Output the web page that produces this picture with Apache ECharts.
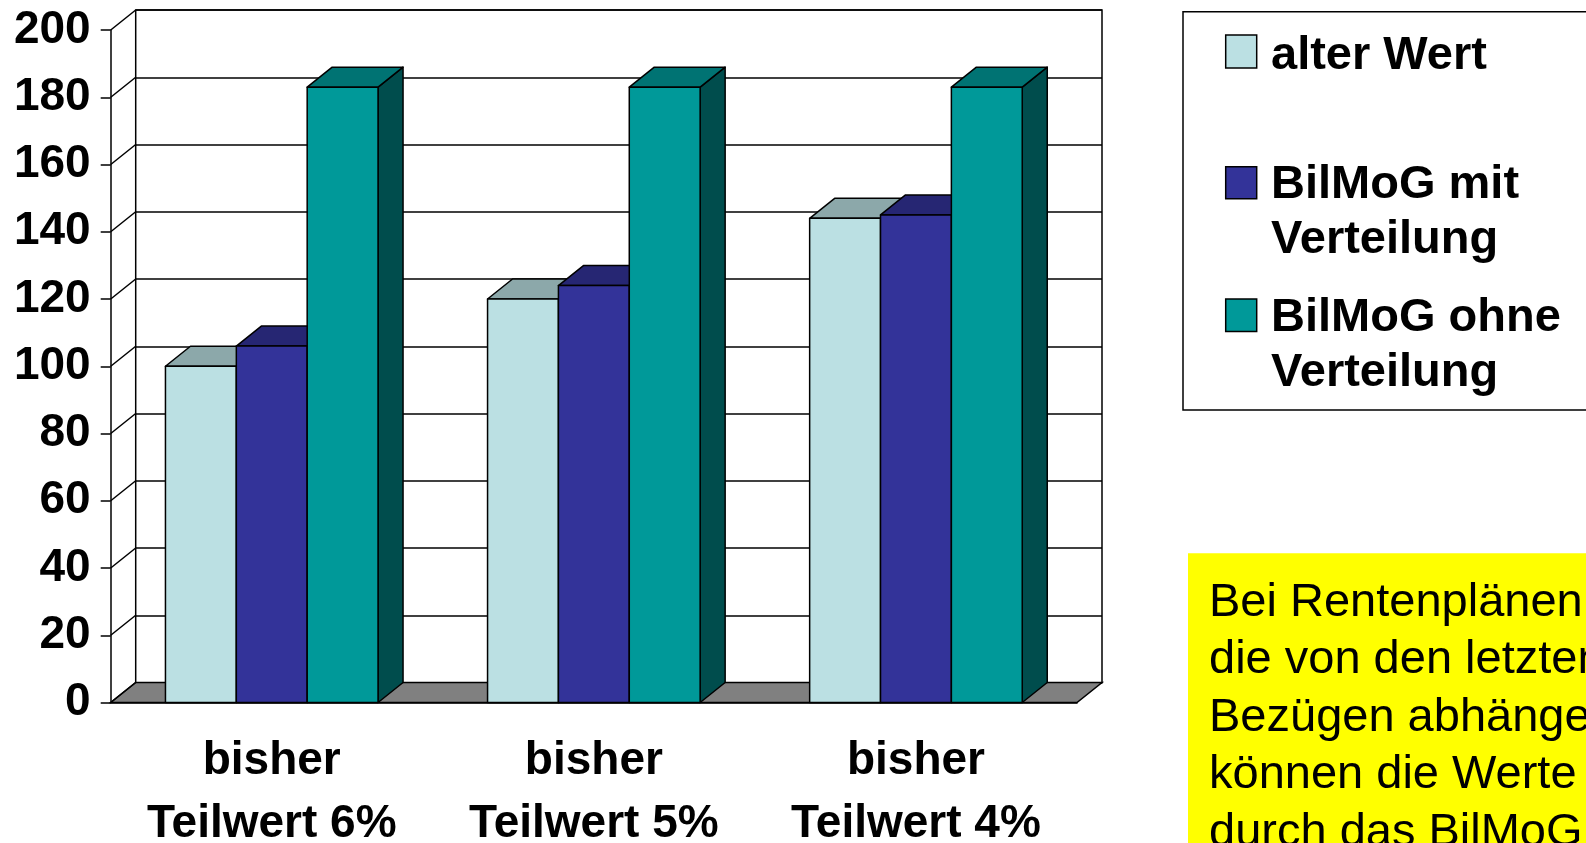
<!DOCTYPE html>
<html>
<head>
<meta charset="utf-8">
<script src="https://cdn.jsdelivr.net/npm/echarts@6/dist/echarts.min.js"></script>
<style>
  html, body { margin: 0; padding: 0; background: #fff; }
  #box { width: 1586px; height: 843px; }
</style>
</head>
<body>
<div id="box"></div>
<script>
// Daten
var categories = ['bisher\nTeilwert 6%', 'bisher\nTeilwert 5%', 'bisher\nTeilwert 4%'];
var seriesNames = ['alter Wert', 'BilMoG mit Verteilung', 'BilMoG ohne Verteilung'];
var alterWert = [100, 120, 144];
var mitVerteilung = [106, 124, 145];
var ohneVerteilung = [183, 183, 183];
var yTicks = [0, 20, 40, 60, 80, 100, 120, 140, 160, 180, 200];

// Farben: Front, Deckel, Seite
var colors = [
    ['#BBE0E3', '#8CA8AA', '#5E7072'],
    ['#333399', '#262673', '#1A1A4D'],
    ['#009999', '#007373', '#004D4D']
];
var DX = 25, DY = 20; // 3D Tiefe
var FONT = "'Liberation Sans', Arial, sans-serif";

var myChart = echarts.init(document.getElementById('box'));

function barItem(params, api) {
    var s = params.seriesIndex - 2; // 0..2
    var cat = api.value(0);
    var val = api.value(1);
    var band = api.size([1, 0])[0];
    var w = band * 0.22;
    var c = api.coord([cat, 0]);
    var top = api.coord([cat, val])[1];
    var base = c[1];
    var x0 = c[0] + (s - 1.5) * w;
    var col = colors[s];
    var ls = { stroke: '#000', lineWidth: 1.5, lineJoin: 'round' };
    return {
        type: 'group',
        children: [
            { type: 'polygon', shape: { points: [[x0 + w, top], [x0 + w + DX, top - DY], [x0 + w + DX, base - DY], [x0 + w, base]] },
              style: Object.assign({ fill: col[2] }, ls) },
            { type: 'polygon', shape: { points: [[x0, top], [x0 + w, top], [x0 + w + DX, top - DY], [x0 + DX, top - DY]] },
              style: Object.assign({ fill: col[1] }, ls) },
            { type: 'rect', shape: { x: x0, y: top, width: w, height: base - top },
              style: Object.assign({ fill: col[0] }, ls) }
        ]
    };
}

var option = {
    animation: false,
    grid: [
        // Vorderebene
        { left: 110.7, top: 30, right: 509, bottom: 140.5, containLabel: false, outerBoundsMode: 'none' },
        // Rückwand
        { left: 135.7, top: 10, right: 484, bottom: 160.3, containLabel: false, outerBoundsMode: 'none',
          show: true, borderColor: '#000', borderWidth: 1.5, backgroundColor: '#fff' }
    ],
    xAxis: [
        {
            gridIndex: 0,
            type: 'category',
            data: categories,
            axisLine: { lineStyle: { color: '#000', width: 1.5 } },
            axisTick: { length: 13, lineStyle: { color: '#000', width: 1.5 } },
            axisLabel: { color: '#000', fontFamily: FONT, fontWeight: 'bold', fontSize: 46, lineHeight: 63, margin: 27, interval: 0 }
        },
        { gridIndex: 1, type: 'category', data: categories, show: false }
    ],
    yAxis: [
        {
            gridIndex: 0,
            type: 'value',
            min: 0,
            max: 200,
            interval: 20,
            axisLine: { show: true, lineStyle: { color: '#000', width: 1.5 } },
            axisTick: { show: true, length: 10, lineStyle: { color: '#000', width: 1.5 } },
            splitLine: { show: false },
            axisLabel: { color: '#000', fontFamily: FONT, fontWeight: 'bold', fontSize: 46, margin: 20 }
        },
        {
            gridIndex: 1,
            type: 'value',
            min: 0,
            max: 200,
            interval: 20,
            axisLine: { show: false },
            axisTick: { show: false },
            axisLabel: { show: false },
            splitLine: { lineStyle: { color: '#000', width: 1.5 } }
        }
    ],
    series: [
        // Boden
        {
            type: 'custom',
            xAxisIndex: 0,
            yAxisIndex: 0,
            silent: true,
            data: [[0, 0]],
            renderItem: function (params, api) {
                var cs = params.coordSys;
                var y0 = api.coord([0, 0])[1];
                return {
                    type: 'polygon',
                    shape: { points: [[cs.x, y0], [cs.x + cs.width, y0], [cs.x + cs.width + DX, y0 - DY], [cs.x + DX, y0 - DY]] },
                    style: { fill: '#808080', stroke: '#000', lineWidth: 1.5 }
                };
            }
        },
        // Seitenwand
        {
            type: 'custom',
            xAxisIndex: 0,
            yAxisIndex: 0,
            silent: true,
            data: yTicks.map(function (v) { return [0, v]; }),
            renderItem: function (params, api) {
                var cs = params.coordSys;
                var y = api.coord([0, api.value(1)])[1];
                return {
                    type: 'line',
                    shape: { x1: cs.x, y1: y, x2: cs.x + DX, y2: y - DY },
                    style: { stroke: '#000', lineWidth: 1.5 }
                };
            }
        },
        { name: seriesNames[0], type: 'custom', renderItem: barItem, data: alterWert.map(function (v, i) { return [i, v]; }) },
        { name: seriesNames[1], type: 'custom', renderItem: barItem, data: mitVerteilung.map(function (v, i) { return [i, v]; }) },
        { name: seriesNames[2], type: 'custom', renderItem: barItem, data: ohneVerteilung.map(function (v, i) { return [i, v]; }) }
    ],
    graphic: [
        // Legende
        { type: 'rect', shape: { x: 1183, y: 11.7, width: 420, height: 398.3 }, style: { fill: '#fff', stroke: '#000', lineWidth: 1.5 } },
        { type: 'rect', shape: { x: 1225.7, y: 35, width: 31, height: 33 }, style: { fill: colors[0][0], stroke: '#000', lineWidth: 1.5 } },
        { type: 'rect', shape: { x: 1225.7, y: 166.7, width: 31, height: 32 }, style: { fill: colors[1][0], stroke: '#000', lineWidth: 1.5 } },
        { type: 'rect', shape: { x: 1225.7, y: 299, width: 31, height: 32.5 }, style: { fill: colors[2][0], stroke: '#000', lineWidth: 1.5 } },
        { type: 'text', style: { text: 'alter Wert', x: 1271, y: 56, fill: '#000', font: 'bold 47px ' + FONT, verticalAlign: 'middle' } },
        { type: 'text', style: { text: 'BilMoG mit', x: 1271, y: 185.5, fill: '#000', font: 'bold 47px ' + FONT, verticalAlign: 'middle' } },
        { type: 'text', style: { text: 'Verteilung', x: 1271, y: 240, fill: '#000', font: 'bold 47px ' + FONT, verticalAlign: 'middle' } },
        { type: 'text', style: { text: 'BilMoG ohne', x: 1271, y: 318, fill: '#000', font: 'bold 47px ' + FONT, verticalAlign: 'middle' } },
        { type: 'text', style: { text: 'Verteilung', x: 1271, y: 373.5, fill: '#000', font: 'bold 47px ' + FONT, verticalAlign: 'middle' } },
        // Hinweis
        { type: 'rect', shape: { x: 1188, y: 553.3, width: 420, height: 320 }, style: { fill: '#FFFF00' } },
        {
            type: 'text',
            style: {
                text: 'Bei Rentenplänen,\ndie von den letzten\nBezügen abhängen,\nkönnen die Werte\ndurch das BilMoG',
                x: 1209, y: 574, fill: '#000', font: '47px ' + FONT, lineHeight: 57.5, verticalAlign: 'top'
            }
        }
    ]
};

myChart.setOption(option);
</script>
</body>
</html>
